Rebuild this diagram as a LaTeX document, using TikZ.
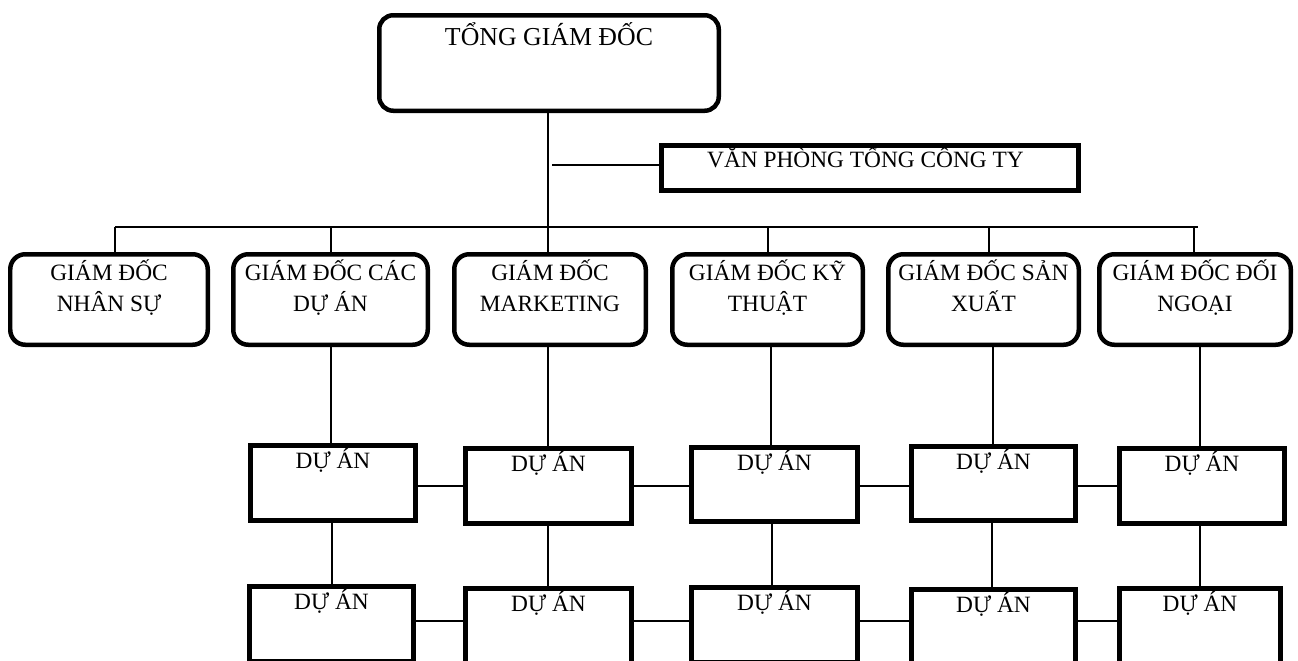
\documentclass[tikz,border=0pt]{standalone}
\usepackage{fontspec}
\setmainfont{Liberation Serif}
\usetikzlibrary{fit,calc}
\begin{document}
\begin{tikzpicture}[x=0.02cm,y=-0.02cm,
  link/.style={line width=0.04cm},
  headbox/.style={draw, line width=0.09cm, rounded corners=0.28cm, inner sep=0pt},
  mgrbox/.style={draw, line width=0.09cm, rounded corners=0.3cm, inner sep=0pt},
  officebox/.style={draw, line width=0.1cm, inner sep=0pt},
  projbox/.style={draw, line width=0.094cm, inner sep=0pt},
  txt/.style={anchor=base, inner sep=0pt, align=center, font=\fontsize{13.3}{17.6}\selectfont},
  headtxt/.style={txt, font=\fontsize{14.7}{18}\selectfont}]
\clip (0,0) rectangle (1298,660);
\fill[white] (0,0) rectangle (1298,660);

% top level
\node[headbox, fit={(379.25,15.25) (718.75,110.75)}] (ceo) {};
\node[headtxt] (ceot) at ($(ceo.north)+(0,32.5)$) {TỔNG GIÁM ĐỐC};

% head office
\node[officebox, fit={(661.5,145.5) (1078.5,190.5)}] (vp) {};
\node[txt] (vpt) at ($(vp.north)+(-4.5,24)$) {VĂN PHÒNG TỔNG CÔNG TY};

% directors (the base anchor of a two-line label sits on its second line)
\node[mgrbox, fit={(10.25,254.25) (207.75,344.75)}] (ns) {};
\node[mgrbox, fit={(233.25,254.25) (427.75,344.75)}] (cda) {};
\node[mgrbox, fit={(454.25,254.25) (645.75,344.75)}] (mkt) {};
\node[mgrbox, fit={(672.25,254.25) (862.75,344.75)}] (kt) {};
\node[mgrbox, fit={(888.25,254.25) (1078.75,344.75)}] (sx) {};
\node[mgrbox, fit={(1099.25,254.25) (1290.75,344.75)}] (dn) {};
\node[txt] (nst) at ($(ns.north)+(0,59.75)$) {GIÁM ĐỐC\\NHÂN SỰ};
\node[txt] (cdat) at ($(cda.north)+(0,59.75)$) {GIÁM ĐỐC CÁC\\DỰ ÁN};
\node[txt] (mktt) at ($(mkt.north)+(0,59.75)$) {GIÁM ĐỐC\\MARKETING};
\node[txt] (ktt) at ($(kt.north)+(0,59.75)$) {GIÁM ĐỐC KỸ\\THUẬT};
\node[txt] (sxt) at ($(sx.north)+(0,59.75)$) {GIÁM ĐỐC SẢN\\XUẤT};
\node[txt] (dnt) at ($(dn.north)+(0,59.75)$) {GIÁM ĐỐC ĐỐI\\NGOẠI};

% projects, first row
\node[projbox, fit={(250.35,445.35) (415.65,520.65)}] (d11) {};
\node[projbox, fit={(465.35,448.35) (631.65,523.65)}] (d12) {};
\node[projbox, fit={(691.35,447.35) (857.65,521.65)}] (d13) {};
\node[projbox, fit={(911.35,446.35) (1075.65,520.65)}] (d14) {};
\node[projbox, fit={(1119.35,448.35) (1284.65,523.65)}] (d15) {};
% projects, second row
\node[projbox, fit={(249.35,586.35) (413.65,661.65)}] (d21) {};
\node[projbox, fit={(465.35,588.35) (631.65,663.65)}] (d22) {};
\node[projbox, fit={(691.35,587.35) (857.65,662.65)}] (d23) {};
\node[projbox, fit={(911.35,589.35) (1075.65,664.65)}] (d24) {};
\node[projbox, fit={(1119.35,588.35) (1280.65,663.65)}] (d25) {};
\foreach \b in {d11,d12,d13,d14,d15,d21,d22,d23,d24,d25}
  \node[txt] (\b t) at ($(\b.north)+(0,25)$) {DỰ ÁN};

% trunk, office branch and bus
\coordinate (vpj) at (552,165);
\coordinate (busL) at (115,227);
\coordinate (busR) at (1198,227);
\draw[link] (ceo.south -| 548,0) -- (548,0 |- mkt.north);
\draw[link] (vpj) -- (vp.west |- vpj);
\draw[link] (busL) -- (busR);
\draw[link] (busL) -- (115,0 |- ns.north);
\draw[link] (331,227) -- (331,0 |- cda.north);
\draw[link] (768,227) -- (768,0 |- kt.north);
\draw[link] (989,227) -- (989,0 |- sx.north);
\draw[link] (1194,227) -- (1194,0 |- dn.north);

% directors to projects
\draw[link] (331,0 |- cda.south) -- (331,0 |- d11.north);
\draw[link] (548,0 |- mkt.south) -- (548,0 |- d12.north);
\draw[link] (771,0 |- kt.south) -- (771,0 |- d13.north);
\draw[link] (993,0 |- sx.south) -- (993,0 |- d14.north);
\draw[link] (1200,0 |- dn.south) -- (1200,0 |- d15.north);

% project rows
\draw[link] (d11.east |- 0,486) -- (d12.west |- 0,486);
\draw[link] (d12.east |- 0,486) -- (d13.west |- 0,486);
\draw[link] (d13.east |- 0,486) -- (d14.west |- 0,486);
\draw[link] (d14.east |- 0,486) -- (d15.west |- 0,486);
\draw[link] (d21.east |- 0,621) -- (d22.west |- 0,621);
\draw[link] (d22.east |- 0,621) -- (d23.west |- 0,621);
\draw[link] (d23.east |- 0,621) -- (d24.west |- 0,621);
\draw[link] (d24.east |- 0,621) -- (d25.west |- 0,621);

% project columns
\draw[link] (332,0 |- d11.south) -- (332,0 |- d21.north);
\draw[link] (548,0 |- d12.south) -- (548,0 |- d22.north);
\draw[link] (772,0 |- d13.south) -- (772,0 |- d23.north);
\draw[link] (992,0 |- d14.south) -- (992,0 |- d24.north);
\draw[link] (1200,0 |- d15.south) -- (1200,0 |- d25.north);
\end{tikzpicture}
\end{document}
